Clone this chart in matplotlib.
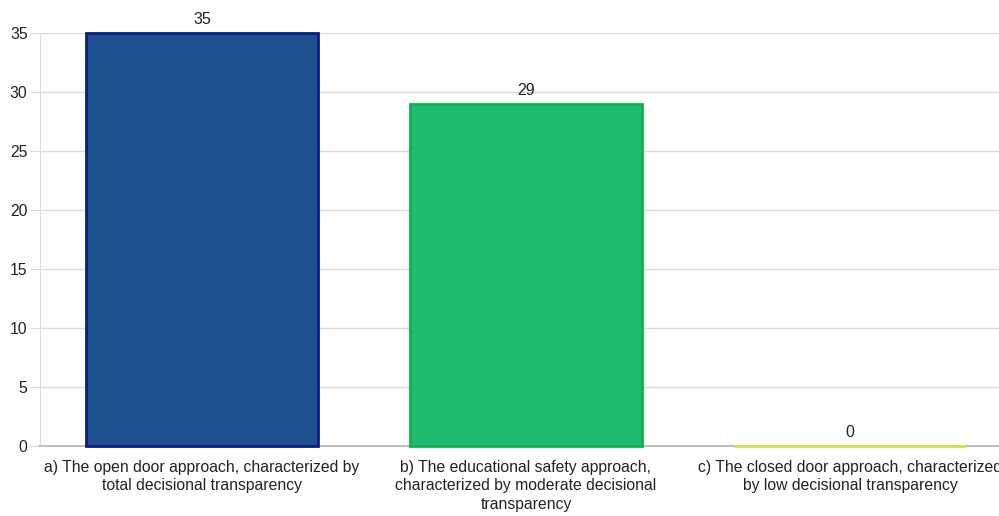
import matplotlib.pyplot as plt

# Survey counts per approach
categories = [
    "a) The open door approach, characterized by\ntotal decisional transparency",
    "b) The educational safety approach,\ncharacterized by moderate decisional\ntransparency",
    "c) The closed door approach, characterized\nby low decisional transparency",
]
counts = [35, 29, 0]
fill_colors = ["#1c508e", "#1fbb6e", "#e6f0a0"]
edge_colors = ["#0b1f7d", "#12b04e", "#d4e157"]

plt.rcParams["font.family"] = ["Liberation Sans", "DejaVu Sans"]

fig = plt.figure(figsize=(9.99, 5.16), dpi=100)
ax = fig.add_axes([40 / 999, 70 / 516, 972 / 999, 413 / 516])

x = range(len(counts))
bars = ax.bar(x, counts, width=0.716, color=fill_colors,
              edgecolor=edge_colors, linewidth=2, zorder=3)
for b in bars:
    b.set_clip_on(False)

for xi, v in zip(x, counts):
    ax.annotate(str(v), (xi, v), xytext=(0, 4), textcoords="offset points",
                ha="center", va="bottom", fontsize=11.5, color="#222222")

ax.set_xlim(-0.5, len(counts) - 0.5)
ax.set_ylim(0, 35)
ax.set_yticks(range(0, 36, 5))
ax.set_xticks(list(x))
ax.set_xticklabels(categories, fontsize=11.3, color="#222222",
                   linespacing=1.3)

ax.grid(axis="y", color="#dcdcdc", linewidth=1, zorder=0)
for s in ["top", "right"]:
    ax.spines[s].set_visible(False)
ax.spines["left"].set_color("#dcdcdc")
ax.spines["bottom"].set_color("#c0c0c0")
ax.spines["bottom"].set_linewidth(1.5)
ax.tick_params(axis="y", length=7, color="#dcdcdc", labelsize=11.3,
               labelcolor="#222222", pad=2)
ax.tick_params(axis="x", length=0, pad=10)

fig.savefig("out.png", dpi=100)
